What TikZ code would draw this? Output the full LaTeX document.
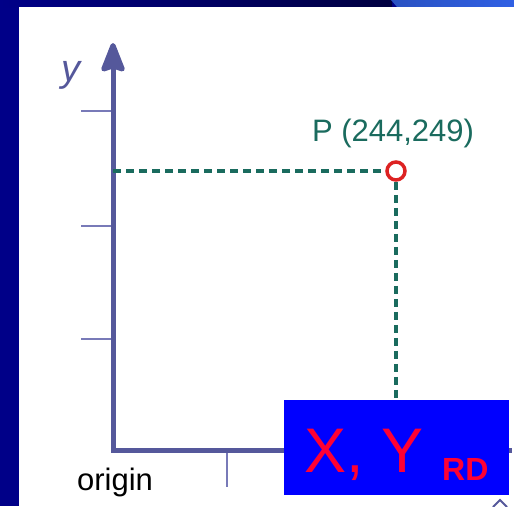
\documentclass[tikz,border=0pt]{standalone}
\usepackage{fontspec}
\setmainfont{Liberation Sans}
\usepackage{xcolor}
\usetikzlibrary{arrows.meta,positioning,calc}

\definecolor{navy}{RGB}{0,0,136}
\definecolor{navydark}{RGB}{0,0,64}
\definecolor{skyblue}{RGB}{48,96,228}
\definecolor{axisblue}{RGB}{85,88,155}
\definecolor{tickblue}{RGB}{120,122,184}
\definecolor{teal}{RGB}{26,107,94}
\definecolor{ptred}{RGB}{221,34,34}
\definecolor{rdred}{RGB}{255,0,51}

\begin{document}
\begin{tikzpicture}[
    x=1pt, y=-1pt,
    axis/.style={draw=axisblue, line width=5pt, line join=miter},
    tk/.style={draw=tickblue, line width=2pt},
    guide/.style={draw=teal, line width=3.4pt, dash pattern=on 8pt off 5pt},
    pt/.style={circle, draw=ptred, fill=white, line width=3.5pt, minimum size=18pt, inner sep=0pt},
    lbl/.style={inner sep=0pt, font=\fontsize{31}{36}\selectfont},
    rdbox/.style={rectangle, fill=blue, minimum width=225pt, minimum height=95pt, inner sep=0pt}
]
    \useasboundingbox (0,0) rectangle (514,506);
    \fill [navy] (0,0) rectangle (514,506);
    \shade [left color=navy, right color=navydark] (0,0) rectangle (392,7);
    \shade [left color=skyblue!85!black, right color=skyblue] (391,0) -- (514,0) -- (514,7) -- (397,7) -- cycle;
    \fill [white] (19,7) rectangle (514,506);

    \coordinate (O) at (113,450);
    \coordinate (ytip) at (113,43);
    \coordinate (xend) at (512,450);
    \draw [axis, {Stealth[length=34pt, width=26pt, inset=4pt, round]}-] (ytip) -- (O) -- (xend);

    \foreach \yy in {111,226,339}
        \draw [tk] (81,\yy) -- (111,\yy);
    \draw [tk] (227,453) -- (227,487);

    \node [lbl, text=axisblue, font=\fontsize{38}{40}\selectfont\itshape, anchor=base] (ylab) at (71,81) {y};
    \node [lbl, text=black, anchor=base] (orig) at (115,490) {origin};

    \node [pt] (P) at (396,171) {};
    \node [lbl, text=teal, anchor=base] (plab) at (393,141) {P (244,249)};
    \coordinate (ya) at (O |- P);
    \coordinate (pdown) at (396,402);
    \draw [guide] (ya) -- (P.west);
    \draw [guide] (P.south) -- (pdown);

    \node [rdbox] (rd) at (396.5,447.5) {};
    \node [lbl, text=rdred, font=\fontsize{63}{63}\selectfont, anchor=base west] (xy) at (304,472) {X, Y};
    \node [lbl, text=rdred, font=\fontsize{32}{32}\selectfont\bfseries, anchor=base west] (sub) at (442,480) {RD};

    \draw [axisblue, line width=2pt] (493,507) -- (500,500) -- (507,507);
\end{tikzpicture}
\end{document}
